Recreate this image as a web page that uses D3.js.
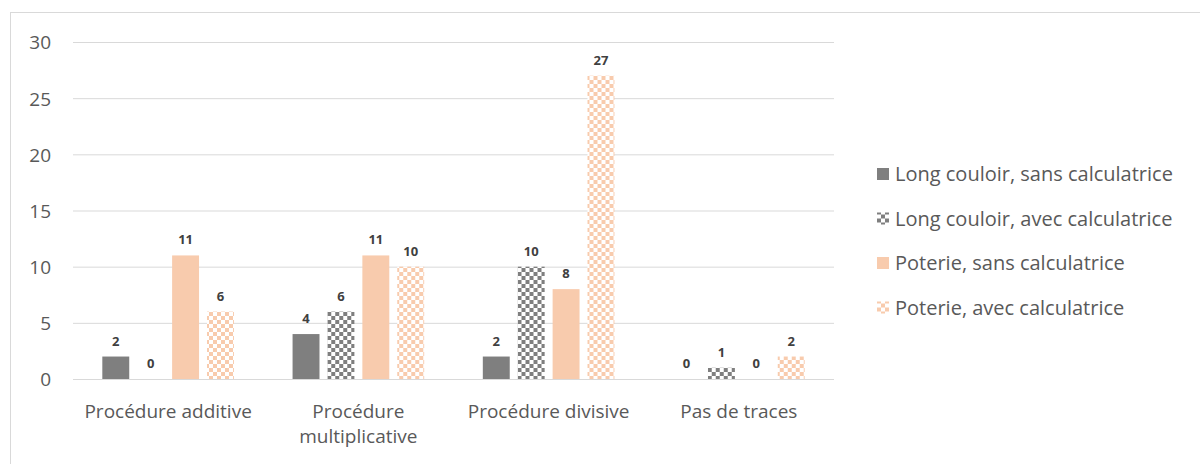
<!DOCTYPE html>
<html>
<head>
<meta charset="utf-8">
<script src="https://cdn.jsdelivr.net/npm/d3@7/dist/d3.min.js"></script>
<style>
  html, body { margin: 0; padding: 0; background: #fff; }
  svg text { font-family: "Open Sans", "Noto Sans", sans-serif; }
</style>
</head>
<body>
<svg id="chart" width="1200" height="464"></svg>
<script>
// Categories and series
const categories = ["Procédure additive", "Procédure multiplicative", "Procédure divisive", "Pas de traces"];
const categoryLines = [["Procédure additive"], ["Procédure", "multiplicative"], ["Procédure divisive"], ["Pas de traces"]];
const seriesNames = [
  "Long couloir, sans calculatrice",
  "Long couloir, avec calculatrice",
  "Poterie, sans calculatrice",
  "Poterie, avec calculatrice"
];
const longSans = [2, 4, 2, 0];
const longAvec = [0, 6, 10, 1];
const poterieSans = [11, 11, 8, 0];
const poterieAvec = [6, 10, 27, 2];
const yTicks = [0, 5, 10, 15, 20, 25, 30];

const seriesValues = [longSans, longAvec, poterieSans, poterieAvec];

const svg = d3.select("#chart");

// checkerboard fills for the "avec calculatrice" series
const defs = svg.append("defs");
function checker(id, color) {
  const p = defs.append("pattern")
    .attr("id", id).attr("patternUnits", "userSpaceOnUse")
    .attr("width", 8).attr("height", 8);
  p.append("rect").attr("width", 8).attr("height", 8).attr("fill", "#fff");
  p.append("rect").attr("x", 0).attr("y", 0).attr("width", 4).attr("height", 4).attr("fill", color);
  p.append("rect").attr("x", 4).attr("y", 4).attr("width", 4).attr("height", 4).attr("fill", color);
}
checker("chkGray", "#7f7f7f");
checker("chkOrange", "#f8cbad");
const fills = ["#7f7f7f", "url(#chkGray)", "#f8cbad", "url(#chkOrange)"];

// outer frame
svg.append("rect")
  .attr("x", 10.5).attr("y", 12.5).attr("width", 1200).attr("height", 500)
  .attr("fill", "none").attr("stroke", "#d9d9d9").attr("stroke-width", 1);

const plot = { left: 73, right: 834, top: 42, bottom: 379 };

const x = d3.scaleBand().domain(categories).range([plot.left, plot.right]).paddingInner(0).paddingOuter(0);
const xInner = d3.scaleBand().domain(d3.range(seriesNames.length))
  .range([0, x.bandwidth()]).paddingInner(8 / 35).paddingOuter(0.84);
const y = d3.scaleLinear().domain([0, 30]).range([plot.bottom, plot.top]);

// gridlines
const grid = svg.append("g").attr("transform", `translate(${plot.left},0)`)
  .call(d3.axisLeft(y).tickValues(yTicks).tickSize(-(plot.right - plot.left)).tickFormat(""));
grid.select(".domain").remove();
grid.selectAll(".tick line").attr("stroke", "#d9d9d9").attr("stroke-width", 1);

// y tick labels
const yAxis = svg.append("g").attr("transform", `translate(51,0)`)
  .call(d3.axisLeft(y).tickValues(yTicks).tickSize(0).tickPadding(0));
yAxis.select(".domain").remove();
yAxis.selectAll(".tick text")
  .attr("fill", "#595959").style("font-size", "19px").attr("dy", "0.36em");

// bars and value labels
const groups = svg.append("g").selectAll("g").data(categories).join("g")
  .attr("transform", d => `translate(${x(d)},0)`);

seriesValues.forEach((vals, si) => {
  groups.append("rect")
    .attr("x", xInner(si))
    .attr("width", xInner.bandwidth())
    .attr("y", (d, i) => y(vals[i]))
    .attr("height", (d, i) => y(0) - y(vals[i]))
    .attr("fill", fills[si]);
  groups.append("text")
    .attr("x", xInner(si) + xInner.bandwidth() / 2)
    .attr("y", (d, i) => y(vals[i]) - 11)
    .attr("text-anchor", "middle")
    .attr("fill", "#404040")
    .style("font-size", "13px").style("font-weight", "bold")
    .text((d, i) => vals[i]);
});

// baseline
svg.append("line")
  .attr("x1", plot.left).attr("x2", plot.right)
  .attr("y1", y(0) + 0.5).attr("y2", y(0) + 0.5)
  .attr("stroke", "#d9d9d9").attr("stroke-width", 1);

// category labels
const xLabels = svg.append("g").selectAll("text").data(categories).join("text")
  .attr("x", d => x(d) + x.bandwidth() / 2)
  .attr("y", 418)
  .attr("text-anchor", "middle")
  .attr("fill", "#595959")
  .style("font-size", "19px");
xLabels.each(function(d, i) {
  const t = d3.select(this);
  categoryLines[i].forEach((line, li) => {
    t.append("tspan").attr("x", x(d) + x.bandwidth() / 2).attr("dy", li === 0 ? 0 : 25).text(line);
  });
});

// legend
const legend = svg.append("g").selectAll("g").data(seriesNames).join("g")
  .attr("transform", (d, i) => `translate(877,${174 + i * 44.5})`);
legend.append("rect")
  .attr("x", 0).attr("y", -6).attr("width", 12).attr("height", 12)
  .attr("fill", (d, i) => fills[i]);
legend.append("text")
  .attr("x", 18).attr("y", 0).attr("dy", "0.36em")
  .attr("fill", "#595959").style("font-size", "20px")
  .text(d => d);
</script>
</body>
</html>
